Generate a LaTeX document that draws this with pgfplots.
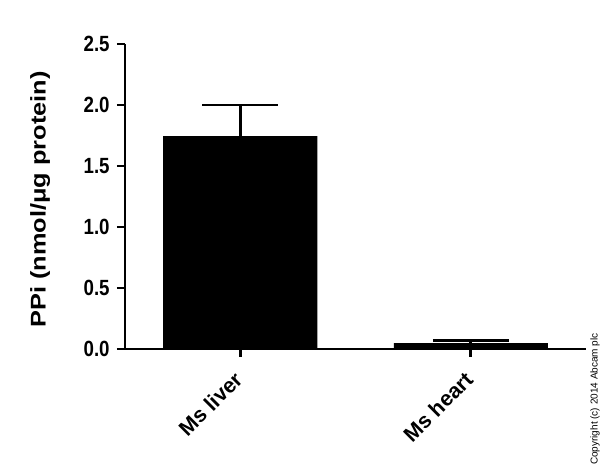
\documentclass[border=0pt]{standalone}
\usepackage{fontspec}
\setmainfont{Liberation Sans}
\usepackage{pgfplots}
\pgfplotsset{compat=1.18}
\begin{document}
\begin{tikzpicture}
\path[use as bounding box] (-93.75pt,-90.75pt) rectangle (356.25pt,261.75pt);
\begin{axis}[
  at={(0,0)}, anchor=south west,
  scale only axis,
  width=345.75pt, height=228.75pt,
  xmin=-0.5, xmax=1.5,
  ymin=0, ymax=2.5,
  ytick={0,0.5,1,1.5,2,2.5},
  xtick={0,1},
  xticklabels={Ms liver, Ms heart},
  axis x line*=bottom, axis y line*=left,
  axis line style={line width=2.2pt, -},
  every tick/.style={line width=2.2pt, black},
  major tick length=6pt,
  tick align=outside,
  tick pos=left,
  yticklabel={\scalebox{0.85}[1]{\pgfmathprintnumber[fixed, fixed zerofill, precision=1, assume math mode=true]{\tick}}},
  yticklabel style={font=\bfseries\fontsize{16.5}{19}\selectfont, xshift=-2pt},
  xticklabel style={font=\bfseries\fontsize{16}{19}\selectfont, xshift=-5.5pt, yshift=-5pt, rotate=45, anchor=north east},
  ylabel={\scalebox{1}[0.84]{PPi (nmol/μg protein)}},
  every axis y label/.style={at={(axis description cs:-0.184,0.49)}, rotate=90, anchor=center, font=\bfseries\fontsize{19}{22}\selectfont},
  clip=false,
]
\addplot[ybar, bar width=115.5pt, fill=black, draw=none,
  error bars/.cd, y dir=plus, y explicit,
  error bar style={line width=2.2pt, black},
  error mark options={line width=2.2pt, black, mark size=28.5pt, rotate=90}]
  coordinates {(0,1.745) +- (0,0.255) (1,0.049) +- (0,0.023)};
\end{axis}
\node[rotate=90, anchor=east, font=\fontsize{7.5}{8}\selectfont, inner sep=0pt] at (352.5pt,12pt) {Copyright (c) 2014 Abcam plc};
\end{tikzpicture}
\end{document}
